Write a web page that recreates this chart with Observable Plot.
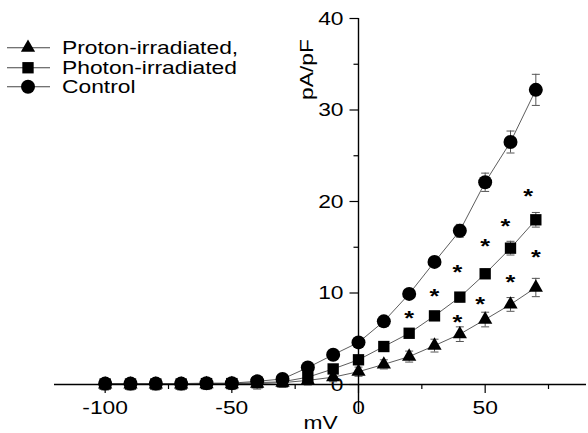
<!DOCTYPE html>
<html>
<head>
<meta charset="utf-8">
<script src="https://cdn.jsdelivr.net/npm/d3@7"></script>
<script src="https://cdn.jsdelivr.net/npm/@observablehq/plot@0.6"></script>
<style>
  body { margin: 0; background: #fff; font-family: Arial, "Liberation Sans", sans-serif; }
  #wrap { position: relative; width: 588px; height: 433px; }
  #legend { position: absolute; left: 0; top: 38px; }
  .row { display: flex; align-items: center; height: 19.5px; }
  .row span { font-size: 19px; line-height: 19px; display: inline-block; transform: scaleX(1.2); transform-origin: left center; margin-left: 6px; color: #000; white-space: nowrap; }
</style>
</head>
<body>
<div id="wrap"><div id="legend"></div></div>
<script>
// ---- data ----
const voltages = [-100, -90, -80, -70, -60, -50, -40, -30, -20, -10, 0, 10, 20, 30, 40, 50, 60, 70];
const controlMean  = [0.1, 0.1, 0.1, 0.1, 0.15, 0.15, 0.35, 0.6, 1.85, 3.25, 4.6, 6.9, 9.9, 13.4, 16.8, 22.1, 26.5, 32.2];
const controlErr   = [0.5, 0.5, 0.5, 0.5, 0.5, 0.5, 0.5, 0.5, 0.4, 0.4, 0.4, 0.4, 0.4, 0.5, 0.7, 1.0, 1.2, 1.7];
const photonMean   = [0.05, 0.05, 0.05, 0.05, 0.1, 0.1, 0.2, 0.3, 0.8, 1.7, 2.7, 4.15, 5.6, 7.5, 9.55, 12.1, 14.9, 18.0];
const photonErr    = [0.5, 0.5, 0.5, 0.5, 0.5, 0.5, 0.5, 0.4, 0.4, 0.3, 0.3, 0.3, 0.4, 0.4, 0.5, 0.5, 0.75, 0.8];
const protonMean   = [0.0, 0.0, 0.0, 0.0, 0.05, 0.05, 0.1, 0.2, 0.45, 0.8, 1.4, 2.2, 3.05, 4.25, 5.5, 7.1, 8.75, 10.6];
const protonErr    = [0.6, 0.6, 0.6, 0.6, 0.6, 0.6, 0.6, 0.5, 0.5, 0.5, 0.5, 0.5, 0.6, 0.7, 0.8, 0.8, 0.75, 1.0];
const seriesNames  = ["Proton-irradiated,", "Photon-irradiated", "Control"];
// significance asterisks (x in mV, y in pA/pF)
const starsUpperX  = [20, 30, 39, 50, 58, 67];
const starsUpperY  = [7.84, 10.27, 12.82, 15.66, 17.85, 21.2];
const starsLowerX  = [39, 48, 60, 70];
const starsLowerY  = [7.43, 9.37, 11.8, 14.46];
// axes
const xMajorTicks  = [-100, -50, 0, 50];
const xMinorTicks  = [-75, -25, 25, 75];
const yMajorTicks  = [0, 10, 20, 30, 40];
const yMinorTicks  = [5, 15, 25, 35];
const xLabel = "mV";
const yLabel = "pA/pF";

// ---- build tables ----
const mk = (means, errs) => voltages.map((v, i) => ({v, y: means[i], e: errs[i]}));
const proton = mk(protonMean, protonErr);
const photon = mk(photonMean, photonErr);
const control = mk(controlMean, controlErr);
const starsUpper = starsUpperX.map((x, i) => ({x, y: starsUpperY[i]}));
const starsLower = starsLowerX.map((x, i) => ({x, y: starsLowerY[i]}));

const fontFamily = 'Arial, "Liberation Sans", sans-serif';
const capSymbol = {draw(ctx, size) { const w = Math.sqrt(size / Math.PI); ctx.moveTo(-w, 0); ctx.lineTo(w, 0); }};
const leftTick = len => ({draw(ctx) { ctx.moveTo(-len, 0); ctx.lineTo(0, 0); }});

const errMarks = rows => [
  Plot.ruleX(rows, {x: "v", y1: d => d.y - d.e, y2: d => d.y + d.e, stroke: "#555", strokeWidth: 1}),
  Plot.dot(rows, {x: "v", y: d => d.y + d.e, symbol: capSymbol, r: 4, stroke: "#555", fill: "none", strokeWidth: 1}),
  Plot.dot(rows, {x: "v", y: d => d.y - d.e, symbol: capSymbol, r: 4, stroke: "#555", fill: "none", strokeWidth: 1})
];

const chart = Plot.plot({
  width: 588, height: 433,
  marginLeft: 54, marginRight: 2, marginTop: 18, marginBottom: 49,
  style: {fontFamily, fontSize: "19px", color: "#000", background: "white", overflow: "visible"},
  x: {domain: [-120, 90]},
  y: {domain: [0, 40], axis: null},
  marks: [
    // x axis (at y = 0)
    Plot.axisX({ticks: xMajorTicks, tickSize: 9, tickPadding: 7, fontSize: 19, tickFormat: d => String(d), label: null, stroke: "black", strokeWidth: 1.2}),
    Plot.axisX({ticks: xMinorTicks, tickSize: 5, tickFormat: () => "", label: null, stroke: "black", strokeWidth: 1.2}),
    Plot.text([xLabel], {frameAnchor: "bottom", text: d => d, dy: 38, lineAnchor: "middle", fontSize: 19}),
    // y axis (at x = 0)
    Plot.dot(yMajorTicks, {x: () => 0, y: d => d, symbol: leftTick(9), stroke: "black", strokeWidth: 1.2}),
    Plot.dot(yMinorTicks, {x: () => 0, y: d => d, symbol: leftTick(5), stroke: "black", strokeWidth: 1.2}),
    Plot.text(yMajorTicks, {x: () => 0, y: d => d, text: d => String(d), dx: -15, textAnchor: "end", lineAnchor: "middle", fontSize: 19}),
    Plot.text([yLabel], {x: () => 0, frameAnchor: "top", text: d => d, rotate: -90, dx: -52, dy: 51, lineAnchor: "middle", fontSize: 19}),
    // error bars
    ...errMarks(proton), ...errMarks(photon), ...errMarks(control),
    // connecting lines
    Plot.line(proton, {x: "v", y: "y", stroke: "#333", strokeWidth: 0.8}),
    Plot.line(photon, {x: "v", y: "y", stroke: "#333", strokeWidth: 0.8}),
    Plot.line(control, {x: "v", y: "y", stroke: "#333", strokeWidth: 0.8}),
    // axis lines
    Plot.ruleY([0], {stroke: "black", strokeWidth: 1.4}),
    Plot.ruleX([0], {y1: -3.1, y2: 40, stroke: "black", strokeWidth: 1.4}),
    // markers
    Plot.dot(proton, {x: "v", y: "y", symbol: "triangle", r: 5.3, fill: "black", stroke: "none"}),
    Plot.dot(photon, {x: "v", y: "y", symbol: "square", r: 6.4, fill: "black", stroke: "none"}),
    Plot.dot(control, {x: "v", y: "y", symbol: "circle", r: 7, fill: "black", stroke: "none"}),
    // asterisks
    Plot.text(starsUpper, {x: "x", y: "y", text: () => "*", fontSize: 21, fontWeight: "bold", fill: "black", dy: 5.5, lineAnchor: "middle"}),
    Plot.text(starsLower, {x: "x", y: "y", text: () => "*", fontSize: 21, fontWeight: "bold", fill: "black", dy: 5.5, lineAnchor: "middle"})
  ]
});

// Reference font is drawn wider than Arial: stretch texts horizontally around their own box
d3.select(chart).selectAll("text").each(function() {
  const t = this.getAttribute("transform");
  const isWord = /[a-zA-Z]/.test(this.textContent);
  if (t) {
    this.setAttribute("transform", t + " scale(1.2,1)");
  } else if (this.textContent !== "*") {
    this.style.transformBox = "fill-box";
    this.style.transformOrigin = "center";
    this.style.transform = `scaleX(${isWord ? 1.2 : 1.08})`;
  }
});

document.getElementById("wrap").prepend(chart);

// ---- legend ----
const legend = d3.select("#legend");
const legendSymbols = [d3.symbolTriangle, d3.symbolSquare, d3.symbolCircle];
const legendR = [5.3, 6.4, 7];
seriesNames.forEach((name, i) => {
  const row = legend.append("div").attr("class", "row");
  const s = row.append("svg").attr("width", 56).attr("height", 19.5);
  s.append("line").attr("x1", 7).attr("x2", 50).attr("y1", 9.75).attr("y2", 9.75).attr("stroke", "#444").attr("stroke-width", 1);
  s.append("path").attr("transform", "translate(28,9.75)")
    .attr("d", d3.symbol(legendSymbols[i], Math.PI * legendR[i] * legendR[i])()).attr("fill", "black");
  row.append("span").text(name);
});
</script>
</body>
</html>
